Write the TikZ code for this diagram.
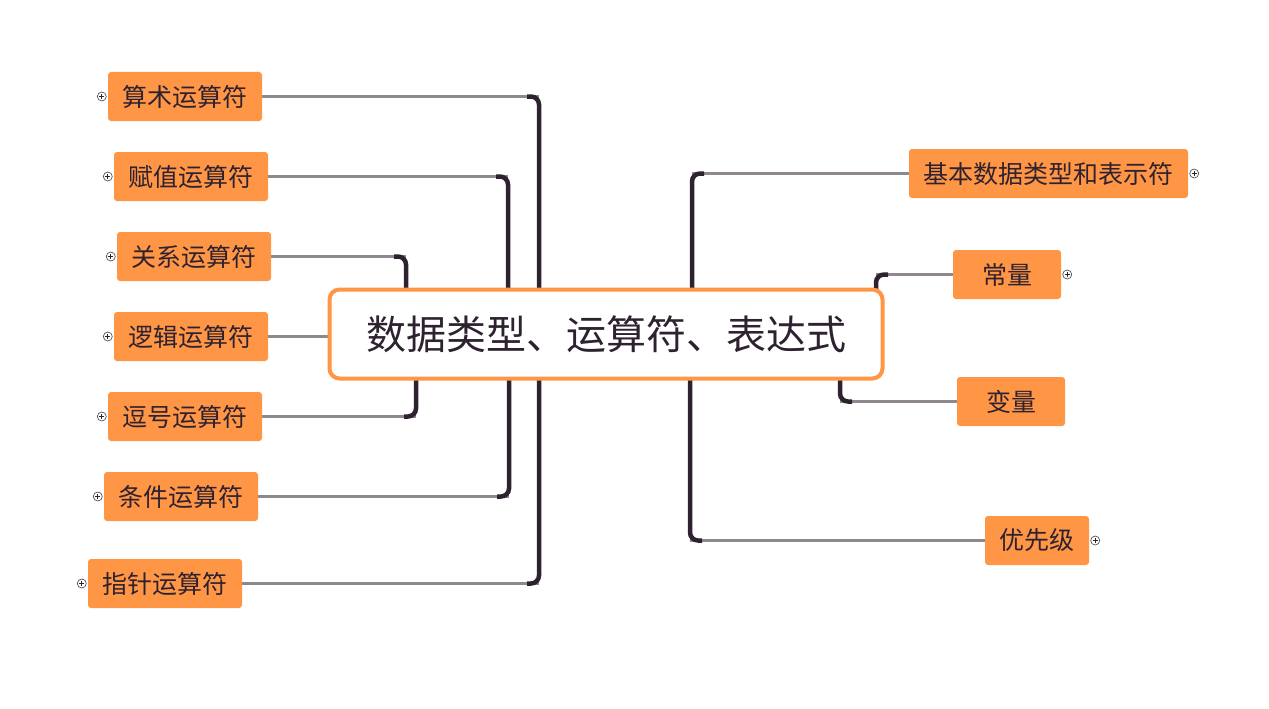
\documentclass[tikz,border=0pt]{standalone}
\usepackage{fontspec}
\newfontfamily\cjk{Noto Sans CJK SC}
\usetikzlibrary{calc,backgrounds}
\definecolor{orng}{HTML}{FF9645}
\definecolor{ink}{HTML}{2E2230}
\definecolor{twigc}{HTML}{8F888E}
\tikzset{
  leaf/.style={fill=orng, rounded corners=3pt, minimum height=49pt, inner sep=0pt,
    text=ink, font=\cjk\fontsize{25}{27}\selectfont},
  root/.style={fill=white, draw=orng, line width=4pt, rounded corners=10pt,
    minimum width=553pt, minimum height=89pt, inner sep=0pt,
    text=ink, font=\cjk\fontsize{40}{42}\selectfont},
  twig/.style={draw=twigc, line width=2.2pt},
  trunk/.style={draw=ink, line width=4.5pt, rounded corners=8pt},
  plusc/.style={circle, draw=ink!80, line width=0.7pt, minimum size=9pt, inner sep=0pt,
    path picture={\draw[ink, line width=0.8pt]
      ([xshift=-2.6pt]path picture bounding box.center) -- ([xshift=2.6pt]path picture bounding box.center)
      ([yshift=-2.6pt]path picture bounding box.center) -- ([yshift=2.6pt]path picture bounding box.center);}}
}
\begin{document}
\begin{tikzpicture}[x=1pt,y=-1pt]
\useasboundingbox (0,0) rectangle (1269,709);
% root
\node[root] (c) at (606,334) {数据类型、运算符、表达式};
% left leaves
\node[leaf, minimum width=154pt] (s1) at (185,96.5) {算术运算符};
\node[leaf, minimum width=154pt] (s2) at (191,176.5) {赋值运算符};
\node[leaf, minimum width=154pt] (s3) at (194,256.5) {关系运算符};
\node[leaf, minimum width=154pt] (s4) at (191,336.5) {逻辑运算符};
\node[leaf, minimum width=154pt] (s5) at (185,416.5) {逗号运算符};
\node[leaf, minimum width=154pt] (s6) at (181,496.5) {条件运算符};
\node[leaf, minimum width=154pt] (s7) at (165,583.5) {指针运算符};
% right leaves
\node[leaf, minimum width=279pt] (r1) at (1048.5,173.5) {基本数据类型和表示符};
\node[leaf, minimum width=108pt] (r2) at (1007,274.5) {常量};
\node[leaf, minimum width=108pt] (r3) at (1011,401.5) {变量};
\node[leaf, minimum width=104pt] (r4) at (1037,540.5) {优先级};
% plus markers
\node[plusc] (ps1) at ($(s1.west)+(-6,0)$) {};
\node[plusc] (ps2) at ($(s2.west)+(-6,0)$) {};
\node[plusc] (ps3) at ($(s3.west)+(-6,0)$) {};
\node[plusc] (ps4) at ($(s4.west)+(-6,0)$) {};
\node[plusc] (ps5) at ($(s5.west)+(-6,0)$) {};
\node[plusc] (ps6) at ($(s6.west)+(-6,0)$) {};
\node[plusc] (ps7) at ($(s7.west)+(-6,0)$) {};
\node[plusc] (pr1) at ($(r1.east)+(6,0)$) {};
\node[plusc] (pr2) at ($(r2.east)+(6,0)$) {};
\node[plusc] (pr4) at ($(r4.east)+(6,0)$) {};
% elbow coordinates (behind root)
\coordinate (e1) at (539,334);
\coordinate (e2) at (508,334);
\coordinate (e3) at (406,334);
\coordinate (e5) at (416,334);
\coordinate (e6) at (509,334);
\coordinate (e7) at (539,334);
\coordinate (f1) at (692,334);
\coordinate (f2) at (876,334);
\coordinate (f3) at (840,334);
\coordinate (f4) at (690,334);
\begin{pgfonlayer}{background}
  \draw[twig] (s1.east) -- (s1.east -| e1);
  \draw[twig] (s2.east) -- (s2.east -| e2);
  \draw[twig] (s3.east) -- (s3.east -| e3);
  \draw[twig] (s4.east) -- (s4.east -| c.west);
  \draw[twig] (s5.east) -- (s5.east -| e5);
  \draw[twig] (s6.east) -- (s6.east -| e6);
  \draw[twig] (s7.east) -- (s7.east -| e7);
  \draw[twig] (r1.west) -- (r1.west -| f1);
  \draw[twig] (r2.west) -- (r2.west -| f2);
  \draw[twig] (r3.west) -- (r3.west -| f3);
  \draw[twig] (r4.west) -- (r4.west -| f4);
  \draw[trunk] (e1) |- ($(s1.east -| e1)+(-12,0)$);
  \draw[trunk] (e2) |- ($(s2.east -| e2)+(-12,0)$);
  \draw[trunk] (e3) |- ($(s3.east -| e3)+(-12,0)$);
  \draw[trunk] (e5) |- ($(s5.east -| e5)+(-12,0)$);
  \draw[trunk] (e6) |- ($(s6.east -| e6)+(-12,0)$);
  \draw[trunk] (e7) |- ($(s7.east -| e7)+(-12,0)$);
  \draw[trunk] (f1) |- ($(r1.west -| f1)+(12,0)$);
  \draw[trunk] (f2) |- ($(r2.west -| f2)+(12,0)$);
  \draw[trunk] (f3) |- ($(r3.west -| f3)+(12,0)$);
  \draw[trunk] (f4) |- ($(r4.west -| f4)+(12,0)$);
\end{pgfonlayer}
\end{tikzpicture}
\end{document}
